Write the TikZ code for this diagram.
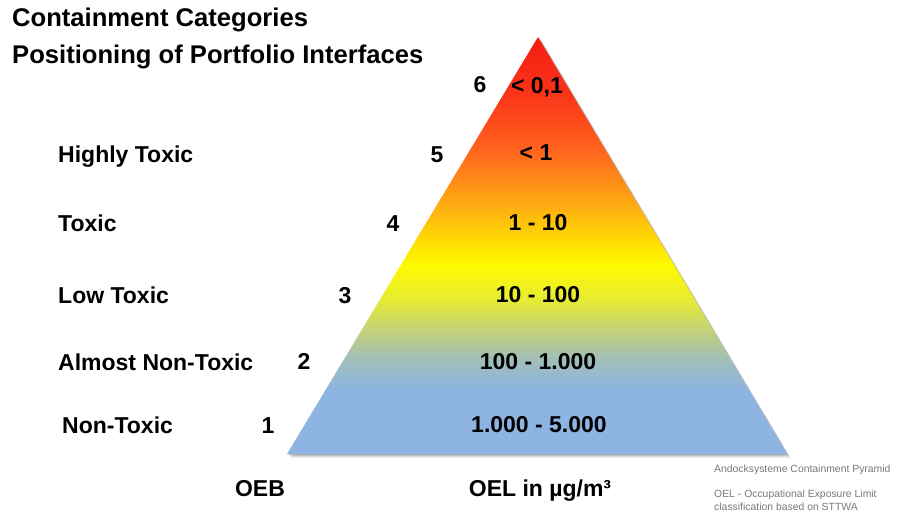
\documentclass[tikz,border=0pt]{standalone}
\usepackage{fontspec}
\setmainfont{Liberation Sans}
\definecolor{cBlue}{RGB}{141,180,226}
\definecolor{cGrayBlue}{RGB}{160,190,185}
\definecolor{cGreen}{RGB}{195,210,120}
\definecolor{cYelGreen}{RGB}{230,235,50}
\definecolor{cYellow}{RGB}{255,250,0}
\definecolor{cYelOr}{RGB}{255,225,0}
\definecolor{cOrange1}{RGB}{255,165,20}
\definecolor{cOrange2}{RGB}{255,100,30}
\definecolor{cRedOr}{RGB}{250,50,25}
\definecolor{cRed}{RGB}{245,30,20}
\definecolor{noteGray}{RGB}{120,120,120}
\pgfdeclareverticalshading{pyramidshade}{100bp}{%
  color(0bp)=(cBlue); color(25bp)=(cBlue); color(32.7bp)=(cBlue);
  color(36.3bp)=(cGrayBlue); color(39.9bp)=(cGreen); color(43.5bp)=(cYelGreen);
  color(47.7bp)=(cYellow); color(50.1bp)=(cYelOr); color(55.5bp)=(cOrange1);
  color(61.4bp)=(cOrange2); color(68.6bp)=(cRedOr); color(75bp)=(cRed);
  color(100bp)=(cRed)}
\tikzset{
  title/.style={anchor=base west, inner sep=0pt, font=\fontsize{25.6}{30}\selectfont\bfseries},
  cat/.style={anchor=base west, inner sep=0pt, font=\fontsize{23}{27}\selectfont\bfseries},
  oeb/.style={anchor=base, inner sep=0pt, font=\fontsize{23}{27}\selectfont\bfseries},
  oel/.style={anchor=base, inner sep=0pt, font=\fontsize{23}{27}\selectfont\bfseries},
  note/.style={anchor=base west, inner sep=0pt, text=noteGray, font=\fontsize{10.4}{12}\selectfont},
}
\begin{document}
\begin{tikzpicture}[x=1pt,y=-1pt]
\useasboundingbox (0,0) rectangle (904,518);
% shadow
\foreach \d/\o in {4/0.06,3/0.08,2/0.10,1/0.12}{
  \fill[black,opacity=\o] (538+\d,37+\d) -- (787+\d,454+\d) -- (287+\d,454+\d) -- cycle;
}
% pyramid
\coordinate (apex) at (538,37);
\coordinate (bl) at (287,454);
\coordinate (br) at (787,454);
\shade[shading=pyramidshade] (apex) -- (br) -- (bl) -- cycle;
% titles
\node[title] (t1) at (12,27) {Containment Categories};
\node[title] (t2) at (12,64) {Positioning of Portfolio Interfaces};
% categories
\node[cat] (c5) at (58,163) {Highly Toxic};
\node[cat] (c4) at (58,232) {Toxic};
\node[cat] (c3) at (58,304) {Low Toxic};
\node[cat] (c2) at (58,370) {Almost Non-Toxic};
\node[cat] (c1) at (62,433) {Non-Toxic};
% OEB numbers
\node[oeb] (n6) at (480,93) {6};
\node[oeb] (n5) at (437,163) {5};
\node[oeb] (n4) at (393,232) {4};
\node[oeb] (n3) at (345,304) {3};
\node[oeb] (n2) at (304,369) {2};
\node[oeb] (n1) at (268,433) {1};
% OEL values
\node[oel] (v6) at (537,94) {< 0,1};
\node[oel] (v5) at (536,161) {< 1};
\node[oel] (v4) at (538,231) {1 - 10};
\node[oel] (v3) at (538,303) {10 - 100};
\node[oel] (v2) at (538,369) {100 - 1.000};
\node[oel] (v1) at (539,432) {1.000 - 5.000};
% axis captions
\node[oeb] (oebcap) at (260,496) {OEB};
\node[oeb] (oelcap) at (540,496) {OEL in µg/m³};
% notes
\node[note] (note1) at (714,472) {Andocksysteme Containment Pyramid};
\node[note] (note2) at (714,497) {OEL - Occupational Exposure Limit};
\node[note] (note3) at (714,510) {classification based on STTWA};
\end{tikzpicture}
\end{document}
